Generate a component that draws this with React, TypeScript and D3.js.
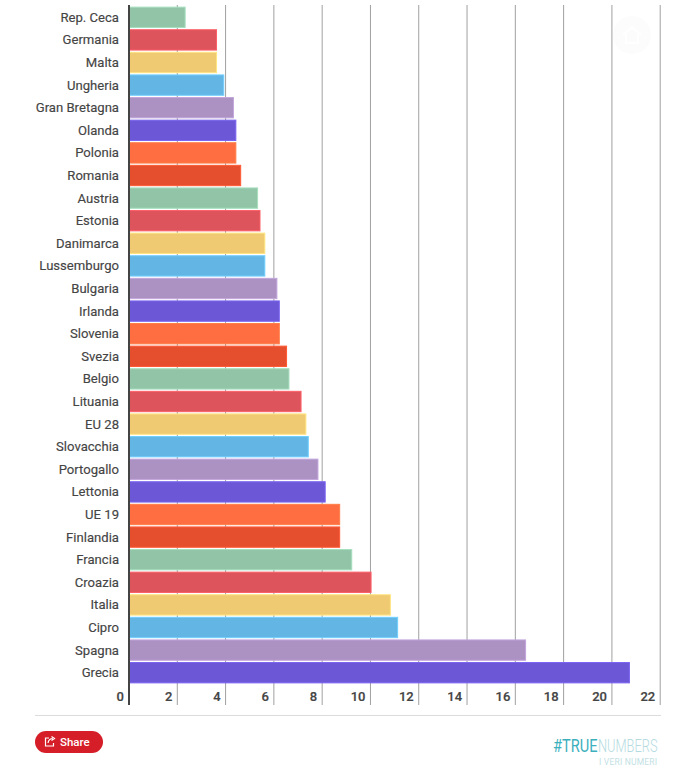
import React from "react";
import * as d3 from "d3";

const categories = ["Rep. Ceca","Germania","Malta","Ungheria","Gran Bretagna","Olanda","Polonia","Romania","Austria","Estonia","Danimarca","Lussemburgo","Bulgaria","Irlanda","Slovenia","Svezia","Belgio","Lituania","EU 28","Slovacchia","Portogallo","Lettonia","UE 19","Finlandia","Francia","Croazia","Italia","Cipro","Spagna","Grecia"];
const values = [2.35,3.65,3.65,3.95,4.35,4.45,4.45,4.65,5.35,5.45,5.65,5.65,6.15,6.25,6.25,6.55,6.65,7.15,7.35,7.45,7.85,8.15,8.75,8.75,9.25,10.05,10.85,11.15,16.45,20.75];
const palette = ["#92c5a8","#de545c","#f0ca72","#63b6e4","#ab92c2","#6c58d6","#ff6e40","#e64f2e"];
const ticks = [2,4,6,8,10,12,14,16,18,20,22];

const W = 691, H = 779;
const font = "Roboto, sans-serif";

export default function App() {
  const x = d3.scaleLinear().domain([0, 22]).range([129, 660.2]);
  const y = d3.scaleBand().domain(categories).range([6, 684]).paddingInner(0.1).paddingOuter(0.05);
  return (
    <svg width={W} height={H} viewBox={`0 0 ${W} ${H}`} style={{ position: "absolute", left: 0, top: 0, background: "#fff" }} fontFamily={font}>
      <circle cx={632} cy={35} r={19} fill="#fcfcfc" />
      <path d="M623 35 L632 27 L641 35 M626 34 V43 H638 V34" fill="none" stroke="#fff" strokeWidth={2} />
      {ticks.map(t => (
        <line key={t} x1={x(t)} x2={x(t)} y1={5} y2={705} stroke="#a0a0a0" strokeWidth={1} />
      ))}
      {categories.map((c, i) => {
        const col = palette[i % palette.length];
        return (
          <g key={c}>
            <rect x={x(0)} y={y(c)!} width={x(values[i]) - x(0) - 0.6} height={y.bandwidth()} fill={col} stroke={d3.color(col)!.brighter(0.35).formatHex()} strokeWidth={1} />
            <text x={119} y={y(c)! + y.bandwidth() / 2} dy="0.35em" textAnchor="end" fontSize={13.1} fontWeight={400} stroke="#444" strokeWidth={0.15} fill="#444">{c}</text>
          </g>
        );
      })}
      <line x1={x(0)} x2={x(0)} y1={5} y2={705} stroke="#444" strokeWidth={2} />
      <text x={x(0) - 5} y={696} dy="0.35em" textAnchor="end" fontSize={13} fontWeight={500} stroke="#444" strokeWidth={0.2} fill="#444">0</text>
      {ticks.map(t => (
        <text key={t} x={x(t) - 5} y={696} dy="0.35em" textAnchor="end" fontSize={13} fontWeight={500} stroke="#444" strokeWidth={0.2} fill="#444">{t}</text>
      ))}
      <line x1={35} x2={661} y1={715.5} y2={715.5} stroke="#dcdcdc" strokeWidth={1} />
      <rect x={35} y={731} width={68} height={22} rx={11} fill="#d51e27" />
      <path d="M49 738 H45.5 V746 H53.5 V743 M48 743 C48.5 740 50.5 738.5 53 738.5 M51.5 736.5 L54.5 738.5 L51.5 740.5" fill="none" stroke="#fff" strokeWidth={1.2} />
      <text x={60} y={741.5} dy="0.35em" fontSize={11.5} fontWeight={500} fill="#fff">Share</text>
      <text transform="translate(553,752) scale(0.77,1)" fontSize={19} fontWeight={400} fill="#3db0bd">#TRUE</text>
      <text transform="translate(598,752) scale(0.675,1)" fontSize={19} fontWeight={300} fill="#b5dbe1">NUMBERS</text>
      <text transform="translate(599,764.5)" fontSize={8.5} fontWeight={400} fill="#c3dfe5" letterSpacing={0.2}>I VERI NUMERI</text>
    </svg>
  );
}
